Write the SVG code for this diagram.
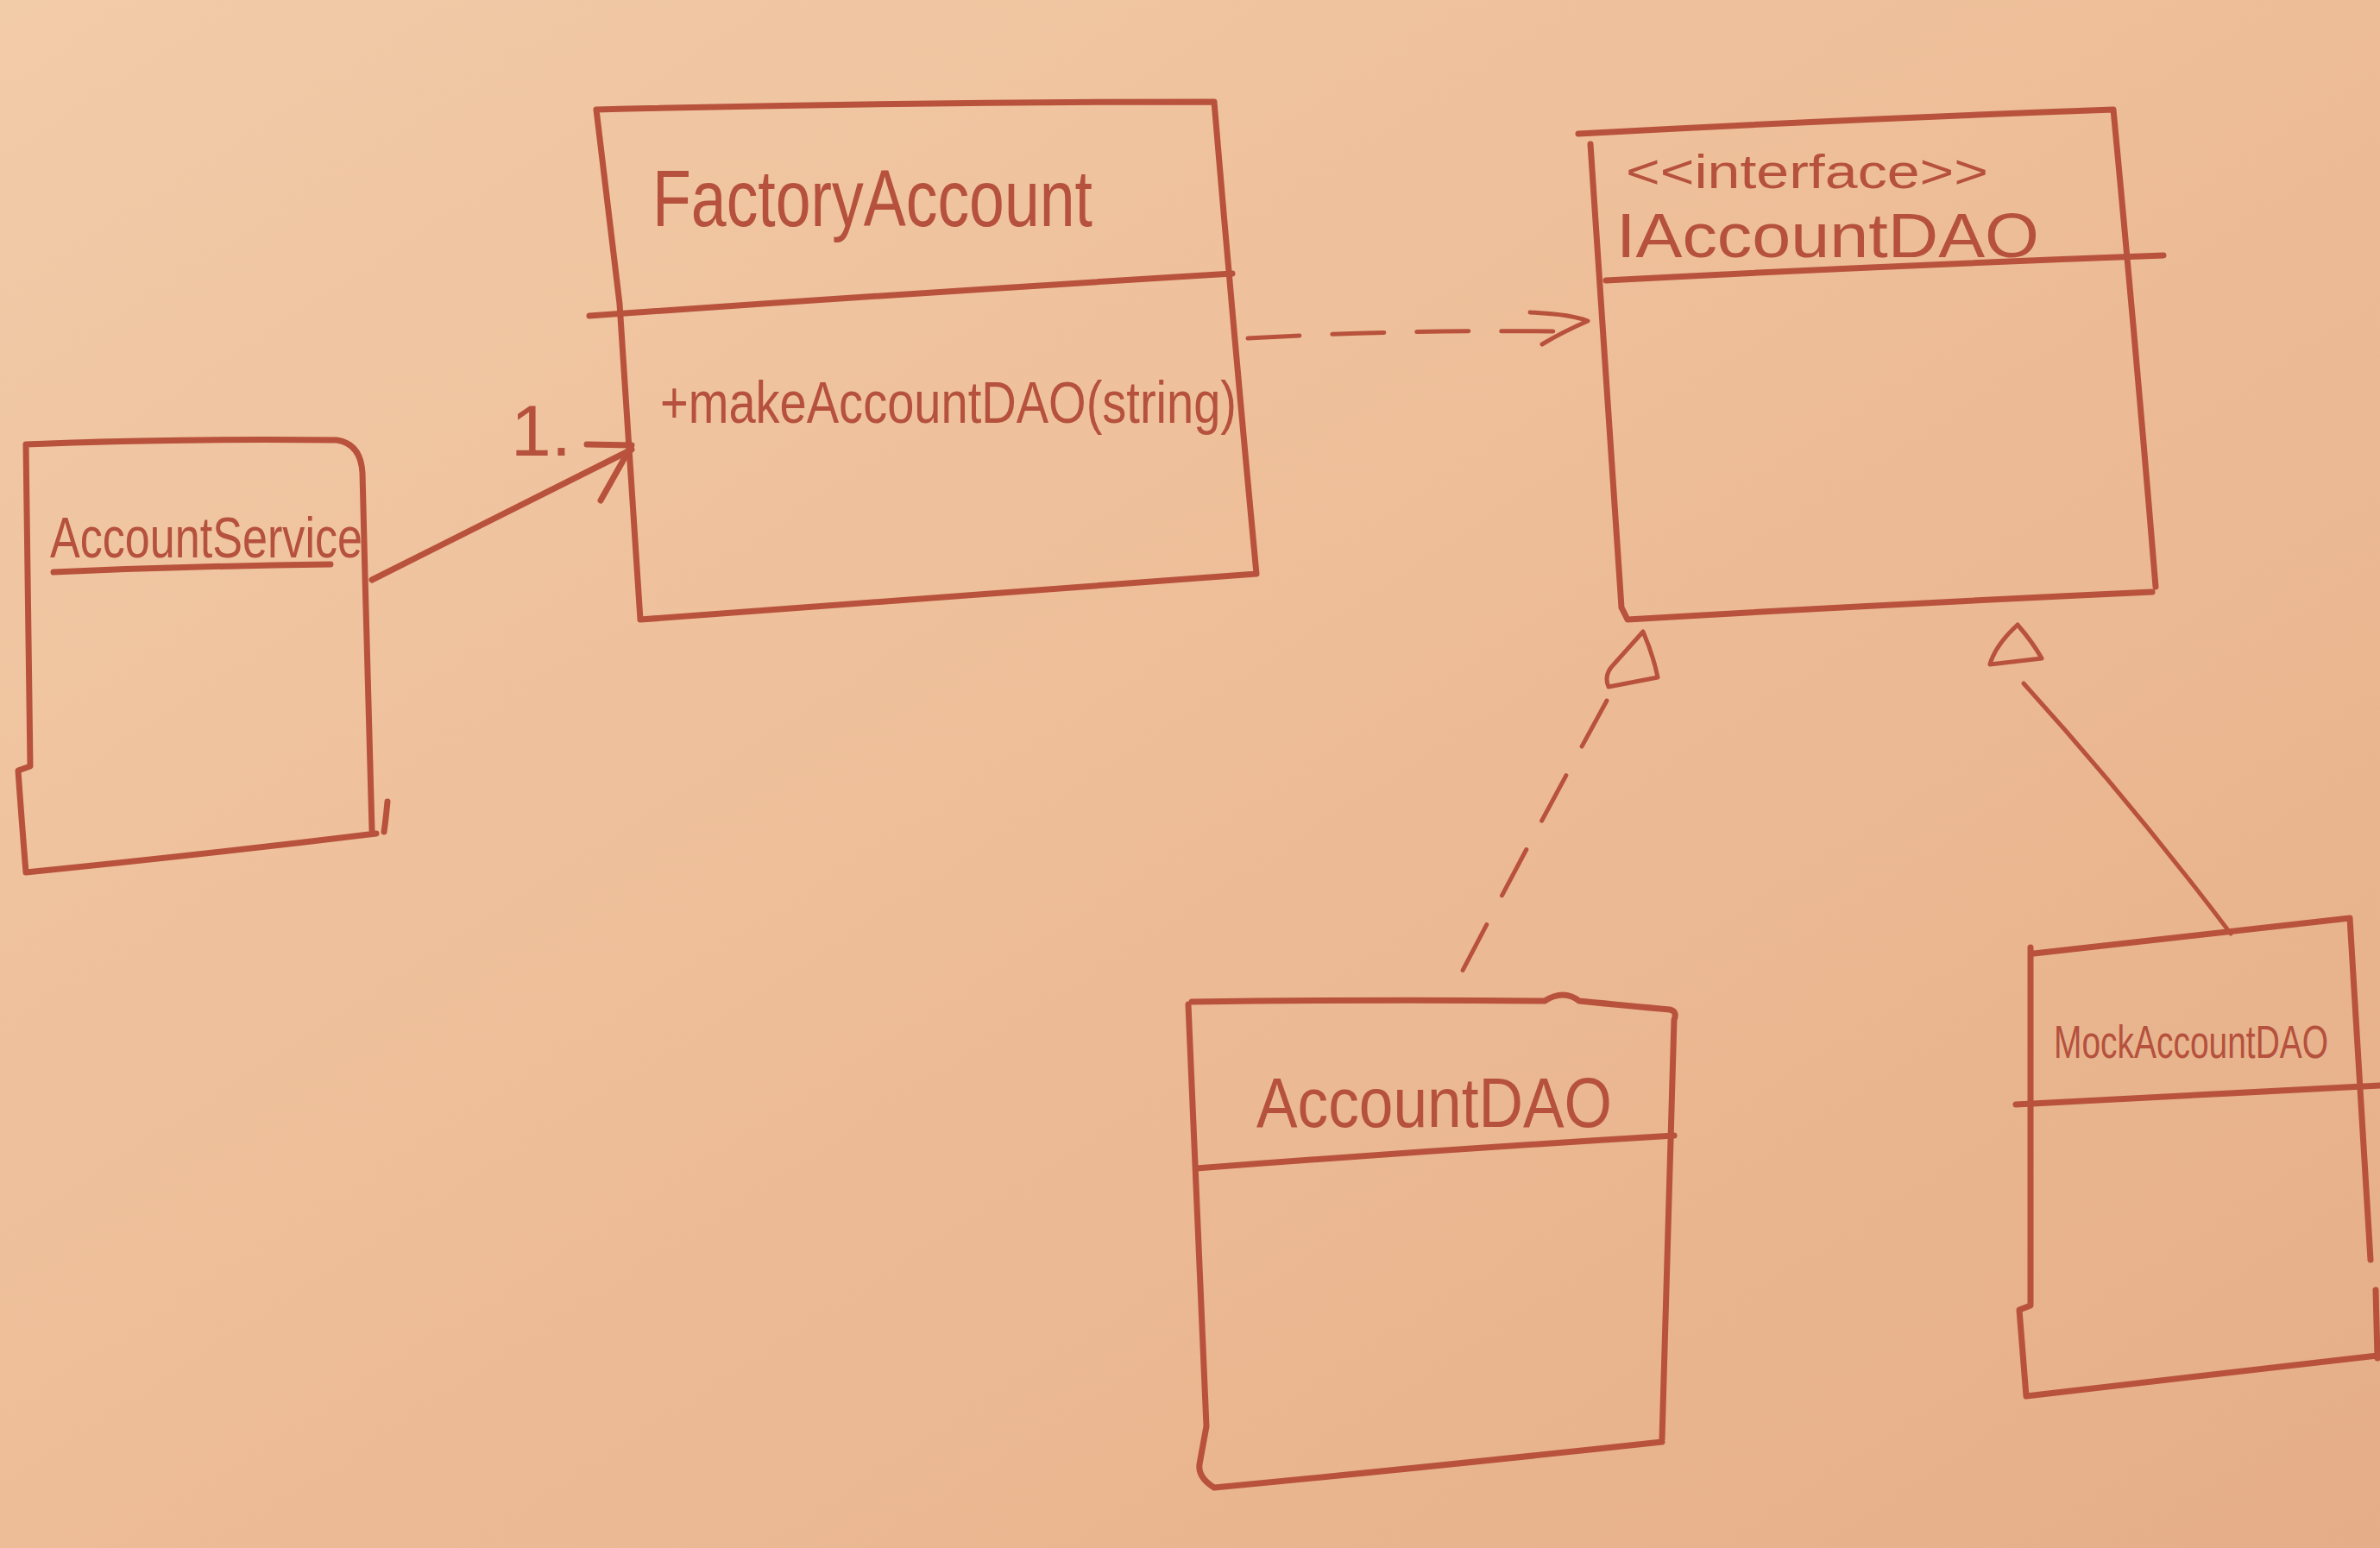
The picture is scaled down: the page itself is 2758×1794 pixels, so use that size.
<svg xmlns="http://www.w3.org/2000/svg" width="2758" height="1794" viewBox="0 0 2758 1794">
  <defs>
    <linearGradient id="paper" x1="0" y1="0" x2="1" y2="1">
      <stop offset="0" stop-color="#F2CBA8"/>
      <stop offset="0.5" stop-color="#EDBD97"/>
      <stop offset="1" stop-color="#E5AE88"/>
    </linearGradient>
    <style>
      .ink { fill: none; stroke: #B8523C; stroke-width: 7; stroke-linecap: round; stroke-linejoin: round; }
      .thin { fill: none; stroke: #B8523C; stroke-width: 5; stroke-linecap: round; stroke-linejoin: round; }
      .dash { stroke-dasharray: 60 38; }
      .lbl { fill: #B5513D; font-family: "Liberation Sans", "DejaVu Sans", sans-serif; }
    </style>
  </defs>

  <!-- sheet of paper -->
  <rect x="0" y="0" width="2758" height="1794" fill="url(#paper)"/>

  <!-- AccountService -->
  <g id="account-service">
    <path class="ink" d="M30,515 Q200,508 390,510 Q418,514 420,548 L423,668 L431,962 M449,929 Q447,950 445,964 M436,966 Q240,990 30,1011 M30,515 Q33,700 35,888 L21,893 Q25,950 30,1011"/>
    <path class="ink" d="M62,663 Q220,656 383,654"/>
    <text class="lbl" x="58" y="646" font-size="66" textLength="362" lengthAdjust="spacingAndGlyphs">AccountService</text>
  </g>

  <!-- FactoryAccount -->
  <g id="factory-account">
    <path class="ink" d="M691,127 Q1050,118 1407,118 Q1430,390 1456,665 Q1100,690 742,718 M691,127 Q705,240 718,352 Q730,540 742,718"/>
    <path class="ink" d="M683,366 Q1050,340 1428,317"/>
    <text class="lbl" x="756" y="262" font-size="92" textLength="510" lengthAdjust="spacingAndGlyphs">FactoryAccount</text>
    <text class="lbl" x="765" y="490" font-size="68" textLength="668" lengthAdjust="spacingAndGlyphs">+makeAccountDAO(string)</text>
  </g>

  <!-- IAccountDAO -->
  <g id="iaccount-dao">
    <path class="ink" d="M1829,155 Q2140,138 2449,127 Q2475,400 2498,680 M2494,686 Q2190,700 1886,718 L1879,704 M1843,167 Q1862,440 1879,704"/>
    <path class="ink" d="M1861,325 Q2180,308 2507,296"/>
    <text class="lbl" x="1884" y="218" font-size="56" textLength="420" lengthAdjust="spacingAndGlyphs">&lt;&lt;interface&gt;&gt;</text>
    <text class="lbl" x="1873" y="298" font-size="72" textLength="490" lengthAdjust="spacingAndGlyphs">IAccountDAO</text>
  </g>

  <!-- AccountDAO -->
  <g id="account-dao">
    <path class="ink" d="M1381,1161 Q1600,1158 1790,1160 Q1812,1146 1830,1160 Q1890,1166 1935,1170 Q1944,1172 1940,1182 Q1932,1430 1926,1668 M1926,1671 Q1660,1700 1407,1724 Q1388,1712 1390,1697 M1377,1164 Q1388,1410 1398,1653 L1390,1697"/>
    <path class="ink" d="M1386,1354 Q1660,1333 1940,1316"/>
    <text class="lbl" x="1456" y="1306" font-size="82" textLength="412" lengthAdjust="spacingAndGlyphs">AccountDAO</text>
  </g>

  <!-- MockAccountDAO -->
  <g id="mock-account-dao">
    <path class="ink" d="M2357,1105 Q2540,1085 2723,1064 Q2735,1260 2747,1460 M2753,1495 L2755,1574 M2755,1571 Q2550,1595 2348,1618 M2353,1098 Q2353,1300 2353,1513 L2340,1518 Q2344,1570 2348,1618"/>
    <path class="ink" d="M2336,1280 Q2550,1268 2758,1258"/>
    <text class="lbl" x="2380" y="1226" font-size="54" textLength="318" lengthAdjust="spacingAndGlyphs">MockAccountDAO</text>
  </g>

  <!-- connectors -->
  <g id="connectors">
    <!-- association AccountService to FactoryAccount, multiplicity 1 -->
    <path class="ink" d="M431,672 Q580,598 732,521"/>
    <path class="ink" d="M680,515 L732,516 L696,580"/>
    <text class="lbl" x="592" y="528" font-size="84">1.</text>

    <!-- dependency FactoryAccount to IAccountDAO -->
    <path class="thin dash" d="M1446,392 Q1620,382 1800,384"/>
    <path class="thin" d="M1773,362 Q1820,364 1840,372 Q1810,385 1787,399"/>

    <!-- realization AccountDAO to IAccountDAO -->
    <path class="thin" d="M1904,732 Q1916,760 1921,785 L1864,796 Q1858,782 1870,770 Q1888,750 1904,732 Z"/>
    <path class="thin dash" d="M1862,812 Q1770,980 1686,1142"/>

    <!-- generalization MockAccountDAO to IAccountDAO -->
    <path class="thin" d="M2338,724 Q2356,745 2366,763 L2306,770 Q2312,748 2338,724 Z"/>
    <path class="thin" d="M2345,792 Q2470,930 2585,1082"/>
  </g>
</svg>
